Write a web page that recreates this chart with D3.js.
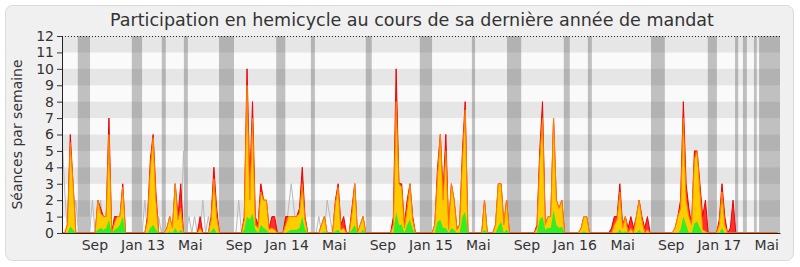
<!DOCTYPE html>
<html>
<head>
<meta charset="utf-8">
<script src="https://cdnjs.cloudflare.com/ajax/libs/d3/7.8.5/d3.min.js"></script>
<style>
body { margin: 0; background: #fff; }
text { font-family: "DejaVu Sans", sans-serif; fill: #333; }
</style>
</head>
<body>
<script>

const title = "Participation en hemicycle au cours de sa dernière année de mandat";
const yTitle = "Séances par semaine";

// one value per week, first week starting on this date
const firstWeek = "2012-06-11";

// red : présences en hémicycle
const presence = [
    0,0,0.5,6,3,0,0,0,0,0,0,0,0,2,1.5,1,1,7,0,1,
    1,1,3,0,0,0,0,0,0,0,0,1,4.5,6,2.5,0,0,0,0.3,1,
    0.3,3,1,3,0,0,0,0,0,0,1,0,0,0,1,4,1.5,0,0,0,
    0,0,0,0,0,0,1,10,3,8,1,0.5,3,2,2,0.3,1,1,0,0,
    0,1,1,1,1,1,1.5,4,1,0,0,0,0,0,0.5,1,0,0,0,2,
    3,0.5,1,0,0,1.5,3,0,0.5,1,0,0,0,0,0,0,0,0,0,0,
    1,10,3,3,0.5,2,3,1,0,0,0,0,0,0,0,0.5,4,6,2.5,6,
    0.3,3,2,0.3,0.5,5,8,0,0,0,0,0,0,2,0,0,0,0.5,3,3,
    0.5,2,0,0,0,0,0,0,0,0,0,0,0.5,5,8,0.5,1,1,7,2,
    1.5,2,0,0,0,0,0,0,0.3,1,1,0,0,0,0,0,0,0,0,0.3,
    1,1,3,0.5,1,0.3,1,0.3,1,2,1,0.3,1,0,0,0,0,0,0,0,
    0,0,0.3,1,2,8,3,1.5,0.5,5,5,3,1,2,0,0,0,0,0.8,3,
    1,0,0.3,2,0,0,0,0,0,0,0,0,0,0,0,0,0,0,0,0
];

// yellow : participations
const participation = [
    0,0,0.5,5.5,3,0,0,0,0,0,0,0,0,2,1.2,1,1,6,0,0.6,
    1,1,2.8,0,0,0,0,0,0,0,0,0.8,4,5.8,2,0,0,0,0.3,1,
    0.3,3,0.8,1.5,0,0,0,0,0,0,0.3,0,0,0,0.8,3.3,1,0,0,0,
    0,0,0,0,0,0,0.8,9,2,7,0.5,0.3,2.5,2,2,0.2,0.3,0.2,0,0,
    0,0.5,1,1,1,1,1.2,3,0.8,0,0,0,0,0,0.5,1,0,0,0,1.8,
    2.8,0.2,0.3,0,0,1.2,3,0,0.5,1,0,0,0,0,0,0,0,0,0,0,
    0.5,8,3,2.8,0.3,1.5,3,0.8,0,0,0,0,0,0,0,0.5,3.5,6,2,5,
    0.2,3,2,0.2,0.5,4.5,7.5,0,0,0,0,0,0,2,0,0,0,0.5,3,3,
    0.5,2,0,0,0,0,0,0,0,0,0,0,0.3,4.5,7,0.5,1,1,7,2,
    1.5,2,0,0,0,0,0,0,0.3,1,1,0,0,0,0,0,0,0,0,0,
    0.5,0.8,2.5,0.3,1,0,0.3,0,1,2,0.8,0,0.2,0,0,0,0,0,0,0,
    0,0,0.3,1,1.5,7,2,1,0.5,4.5,5,2.5,0.2,0.1,0,0,0,0,0.5,2.5,
    0.5,0,0,0,0,0,0,0,0,0,0,0,0,0,0,0,0,0,0,0
];

// green : interventions
const interventions = [
    0,0,0,0.4,0.2,0,0,0,0,0,0,0,0,0.2,0.3,0.2,0.3,0.8,0,0.2,
    0.3,0.5,1,0,0,0,0,0,0,0,0,0,0.3,0.5,0.2,0,0,0,0,0.1,
    0,0.3,0,0.2,0,0,0,0,0,0,0,0,0,0,0.1,0.3,0,0,0,0,
    0,0,0,0,0,0,0.2,1,0.8,1.2,0.2,0,0.5,0.3,0.2,0,0,0,0,0,
    0,0,0.1,0.2,0.2,0.2,0.3,1,0.2,0,0,0,0,0,0,0.1,0,0,0,0.1,
    0.2,0,0,0,0,0.2,0.5,0,0,0.2,0,0,0,0,0,0,0,0,0,0,
    0,1.3,0.5,0.5,0,0.5,0.8,0.2,0,0,0,0,0,0,0,0,0.7,0.8,0.3,0.3,
    0,0.3,0.2,0,0,1,1.3,0,0,0,0,0,0,0.2,0,0,0,0,0.4,0.7,
    0,0.2,0,0,0,0,0,0,0,0,0,0,0,0.8,1,0.2,0.3,0.3,1.4,0.5,
    0.3,0.4,0,0,0,0,0,0,0,0.1,0,0,0,0,0,0,0,0,0,0,
    0,0,0.2,0,0.1,0,0,0,0,0.2,0,0,0,0,0,0,0,0,0,0,
    0,0,0,0,0.2,1,0.5,0,0,0.6,0.7,0.3,0,0,0,0,0,0,0,0.3,
    0,0,0,0,0,0,0,0,0,0,0,0,0,0,0,0,0,0,0,0
];

// grey line : médiane des députés
const mediane = [
    6,2.5,0,0,0,2,0,0,0,0,0,2,0,0,2,0,0,0,0,0,
    0,0,0,0,0,0,0,0,0,0,2,0,0,0,0,1,0,1,0,0,
    0,0,0,0,5,0,1,0,1,0,0,2,0,1,0,0,0,0,0,0,
    0,0,0,0,2,0,0,0,0,0,0,0,0,0,0,0,0,0,0,0,
    0,0,1.5,3,1.5,0,0,0,0,0,0,0,0,1,0,0,2,1,0,0,
    0,0,0,0,0,0,0,0,0,0,0,0,0,0,0,0,0,0,0,0,
    0,0,0,0,0,0,0,0,0,0,0,0,0,0,0,0,0,0,0,0,
    0,0,0,0,0,0,0,0,0,0,0,0,0,0,0,0,0,0,0,0,
    0,0,0,0,0,0,0,0,0,0,0,0,0,0,0,0,0,0,0,0,
    0,0,0,0,0,0,0,0,0,0,0,0,0,0,0,0,0,0,0,0,
    0,0,0,0,0,0,0,0,0,0,0,0,0,0,0,0,0,0,0,0,
    0,0,0,0,0,0,0,0,0,0,0,0,0,0,0,0,0,0,0,0,
    0,0,0,0,0,0,0,0,0,0,0,0,0,0,0,0,0,0,0,0
];

// vacances parlementaires (grey columns)
const vacStart = ["2012-07-21","2012-12-05","2013-02-19","2013-04-16","2013-07-14","2013-12-06",
    "2014-03-04","2014-07-21","2014-12-05","2015-04-16","2015-07-14","2015-12-05","2016-02-04",
    "2016-07-13","2016-12-04","2017-02-11","2017-03-03","2017-03-31","2017-04-13"];
const vacEnd = ["2012-08-21","2012-12-31","2013-03-01","2013-04-26","2013-08-21","2013-12-29",
    "2014-03-14","2014-08-05","2015-01-05","2015-04-24","2015-08-19","2015-12-20","2016-02-14",
    "2016-08-17","2016-12-27","2017-02-19","2017-03-13","2017-04-07","2017-06-05"];

const tickDates = ["2012-09-01","2013-01-01","2013-05-01","2013-09-01","2014-01-01","2014-05-01",
    "2014-09-01","2015-01-01","2015-05-01","2015-09-01","2016-01-01","2016-05-01","2016-09-01",
    "2017-01-01","2017-05-01"];
const tickLabels = ["Sep","Jan 13","Mai","Sep","Jan 14","Mai","Sep","Jan 15","Mai","Sep",
    "Jan 16","Mai","Sep","Jan 17","Mai"];


const margin = {top: 36, right: 20, bottom: 34, left: 62},
    width = 800 - margin.left - margin.right,
    height = 267 - margin.top - margin.bottom;

let parseDate = d3.timeParse("%Y-%m-%d");
let start = parseDate(firstWeek);
let weekDates = presence.map((d,i) => d3.timeDay.offset(start, 7 * i));

let x = d3.scaleTime()
    .domain([start, d3.timeDay.offset(start, 7 * presence.length)])
    .range([0, width]);

let y = d3.scaleLinear()
    .domain([0, 12])
    .range([height, 0]);

let svg = d3.select("body").append("svg")
    .attr("width", 800)
    .attr("height", 267);

svg.append("rect")
    .attr("x", 5.5).attr("y", 5.5)
    .attr("width", 788).attr("height", 255)
    .attr("rx", 7)
    .attr("fill", "#f0f0f0")
    .attr("stroke", "#dadada");

svg.append("text")
    .attr("x", 412)
    .attr("y", 26)
    .attr("text-anchor", "middle")
    .style("font-size", "17.5px")
    .text(title);

svg.append("text")
    .attr("transform", "translate(22," + (margin.top + height / 2) + ") rotate(-90)")
    .attr("text-anchor", "middle")
    .style("font-size", "14px")
    .text(yTitle);

let graph = svg.append("g")
    .attr("transform", "translate(" + margin.left + "," + margin.top + ")");

graph.append("clipPath").attr("id", "plot")
    .append("rect").attr("width", width).attr("height", height);

// horizontal stripes, one per unit
graph.append("g").selectAll("rect")
    .data(d3.range(12))
    .enter()
    .append("rect")
    .attr("x", 0)
    .attr("y", d => y(d + 1))
    .attr("width", width)
    .attr("height", d => y(d) - y(d + 1))
    .attr("fill", d => d % 2 ? "#e6e6e6" : "#fafafa");

graph.append("g").selectAll("rect")
    .data(vacStart)
    .enter()
    .append("rect")
    .attr("x", d => x(parseDate(d)))
    .attr("y", 0)
    .attr("width", (d,i) => Math.max(0, Math.min(width, x(parseDate(vacEnd[i]))) - x(parseDate(d))))
    .attr("height", height)
    .attr("fill", "#505050")
    .attr("fill-opacity", 0.34);

let data = graph.append("g").attr("clip-path", "url(#plot)");

let line = d3.line()
    .x((d,i) => x(weekDates[i]))
    .y(d => y(d));

let area = d3.area()
    .x((d,i) => x(weekDates[i]))
    .y0(y(0))
    .y1(d => y(d));

data.append("path")
    .attr("d", line(mediane))
    .attr("fill", "none")
    .attr("stroke", "#b9b9b9")
    .attr("stroke-width", 1);

data.append("path")
    .attr("d", area(presence))
    .attr("fill", "#ff3030")
    .attr("stroke", "#ee0000")
    .attr("stroke-width", 1);

data.append("path")
    .attr("d", area(participation))
    .attr("fill", "#ffcc00")
    .attr("stroke", "#ff8000")
    .attr("stroke-width", 1);

data.append("path")
    .attr("d", area(interventions))
    .attr("fill", "#33ee22");

// top dotted border
graph.append("line")
    .attr("x1", 0).attr("x2", width)
    .attr("y1", 0.5).attr("y2", 0.5)
    .attr("stroke", "#222")
    .attr("stroke-dasharray", "1,2");

let yAxis = graph.append("g")
    .call(d3.axisLeft(y).tickValues(d3.range(13)).tickSize(5).tickPadding(3).tickFormat(d3.format("d")));
yAxis.selectAll("text").style("font-size", "14px").attr("fill", "#333");
yAxis.selectAll("line").attr("stroke", "#333");
yAxis.select(".domain").attr("stroke", "#222");

let xAxis = graph.append("g")
    .attr("transform", "translate(0," + height + ")")
    .call(d3.axisBottom(x)
        .tickValues(tickDates.map(parseDate))
        .tickSize(0)
        .tickPadding(7)
        .tickFormat((d,i) => tickLabels[i]));
xAxis.selectAll("text").style("font-size", "14px").attr("fill", "#333");
xAxis.select(".domain").attr("stroke", "#222");

</script>
</body>
</html>
